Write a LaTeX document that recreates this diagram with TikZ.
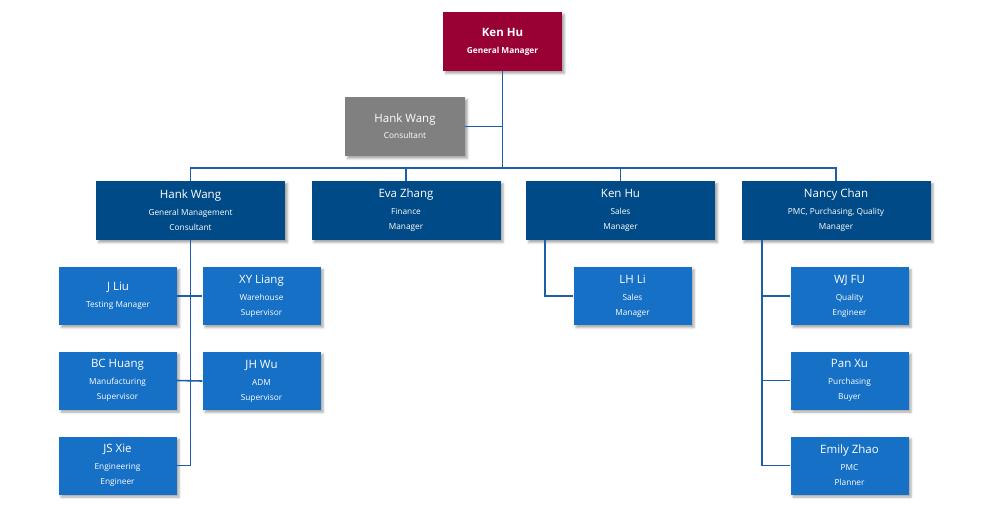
\documentclass[tikz,border=0pt]{standalone}
\usepackage{fontspec}
\setmainfont{Open Sans}
\usetikzlibrary{shadows.blur}
\definecolor{gmred}{HTML}{990033}
\definecolor{consgray}{HTML}{808080}
\definecolor{headblue}{HTML}{004B87}
\definecolor{staffblue}{HTML}{1570C6}
\definecolor{linkblue}{HTML}{1C5EAA}
\newcommand{\nm}[1]{{\fontsize{11.5}{15}\selectfont #1}}
\newcommand{\sub}[1]{{\fontsize{8.3}{15}\selectfont #1}}
\tikzset{
  box/.style={text=white, align=center, inner sep=0pt,
    font=\fontsize{8.3}{15}\selectfont,
    blur shadow={shadow xshift=2.5pt, shadow yshift=-2.5pt, shadow opacity=35, shadow blur steps=4}},
  gmbox/.style={box, fill=gmred, minimum width=119pt, minimum height=59pt},
  consbox/.style={box, fill=consgray, minimum width=120pt, minimum height=59pt},
  headbox/.style={box, fill=headblue, minimum width=189pt, minimum height=59pt},
  staffbox/.style={box, fill=staffblue, minimum width=118pt, minimum height=58pt},
  link/.style={draw=linkblue, line width=1.6pt}
}

\begin{document}
\begin{tikzpicture}[x=1pt, y=-1pt]
  \useasboundingbox (0,0) rectangle (1000,532);

  % top
  \node[gmbox] (gm) at (502.5,41.5) {\nm{\bfseries Ken Hu}\\[2pt]\sub{\bfseries General Manager}};
  \node[consbox] (cons) at (405,126.5) {\nm{Hank Wang}\\[1pt]\sub{Consultant}};

  % heads
  \node[headbox] (hank) at (190.5,210.5) {\nm{Hank Wang}\\[2pt]\sub{General Management}\\\sub{Consultant}};
  \node[headbox] (eva) at (406,210.5) {\nm{Eva Zhang}\\[2pt]\sub{Finance}\\\sub{Manager}};
  \node[headbox] (sales) at (620.5,210.5) {\nm{Ken Hu}\\[2pt]\sub{Sales}\\\sub{Manager}};
  \node[headbox] (nancy) at (836,210.5) {\nm{Nancy Chan}\\[2pt]\sub{PMC, Purchasing, Quality}\\\sub{Manager}};

  % staff under Hank Wang
  \node[staffbox] (liu) at (118,296) {\nm{J Liu}\\[2pt]\sub{Testing Manager}};
  \node[staffbox] (liang) at (261.5,296) {\nm{XY Liang}\\[2pt]\sub{Warehouse}\\\sub{Supervisor}};
  \node[staffbox] (huang) at (117.5,380.5) {\nm{BC Huang}\\[2pt]\sub{Manufacturing}\\\sub{Supervisor}};
  \node[staffbox] (wu) at (261.5,381) {\nm{JH Wu}\\[2pt]\sub{ADM}\\\sub{Supervisor}};
  \node[staffbox] (xie) at (117.5,465.5) {\nm{JS Xie}\\[2pt]\sub{Engineering}\\\sub{Engineer}};

  % staff under Ken Hu
  \node[staffbox] (li) at (632.5,296) {\nm{LH Li}\\[2pt]\sub{Sales}\\\sub{Manager}};

  % staff under Nancy Chan
  \node[staffbox] (fu) at (849.5,296) {\nm{WJ FU}\\[2pt]\sub{Quality}\\\sub{Engineer}};
  \node[staffbox] (xu) at (849.5,380.5) {\nm{Pan Xu}\\[2pt]\sub{Purchasing}\\\sub{Buyer}};
  \node[staffbox] (zhao) at (849.5,465.5) {\nm{Emily Zhao}\\[2pt]\sub{PMC}\\\sub{Planner}};

  % connectors
  \coordinate (bar) at (502.5,168);
  \coordinate (s1) at (545,240);
  \coordinate (n1) at (762,240);
  \draw[link] (gm.south) -- (bar);
  \draw[link] (cons.east) -- (gm.south |- cons.east);
  \draw[link] (hank.north) |- (bar) -| (nancy.north);
  \draw[link] (eva.north) -- (eva.north |- bar);
  \draw[link] (sales.north) -- (sales.north |- bar);
  \draw[link] (hank.south) |- (xie.east);
  \draw[link] (liu.east) -- (liang.west);
  \draw[link] (huang.east) -- (wu.west);
  \draw[link] (s1) |- (li.west);
  \draw[link] (n1) |- (zhao.west);
  \draw[link] (fu.west) -- (n1 |- fu.west);
  \draw[link] (xu.west) -- (n1 |- xu.west);
\end{tikzpicture}
\end{document}
